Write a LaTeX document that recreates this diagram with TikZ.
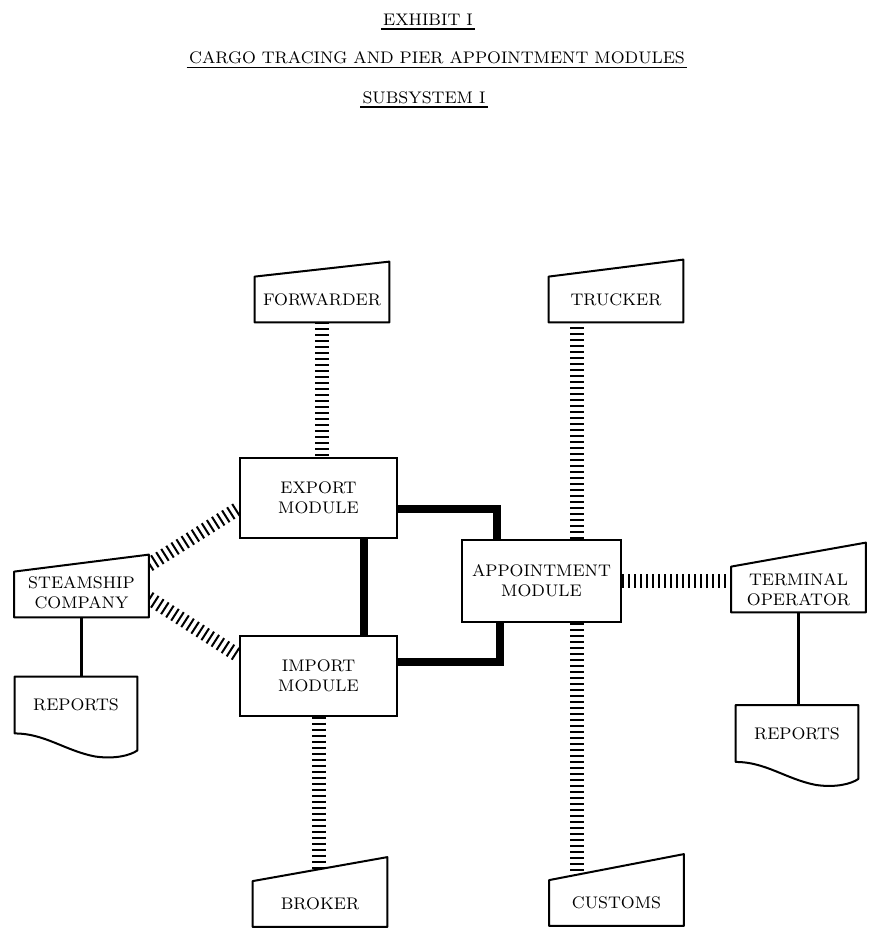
\documentclass[tikz,border=0pt]{standalone}
\usetikzlibrary{calc,backgrounds}
\tikzset{
  box/.style={draw, line width=1pt, minimum width=78.5pt, minimum height=40pt, align=center, inner sep=0pt},
  input/.style={minimum width=67pt, minimum height=22.5pt, align=center, inner sep=0pt},
  report/.style={minimum width=61pt, minimum height=28pt, inner sep=0pt},
  heading/.style={anchor=base, inner ysep=0pt, inner xsep=1pt},
  rail/.style={line width=7pt, dash pattern=on 1pt off 2pt},
  bus/.style={line width=4pt, line join=miter},
  lead/.style={line width=1.4pt},
  outline/.style={line width=1pt, fill=white, line join=round},
}
\begin{document}
\begin{tikzpicture}[x=0.5pt, y=-0.5pt, font=\fontsize{8.4}{10}\selectfont]
    \useasboundingbox (0,0) rectangle (873,928);
    % headings
    \node[heading] (ttl1) at (428,25) {EXHIBIT I};
    \node[heading] (ttl2) at (437,63.5) {CARGO TRACING AND PIER APPOINTMENT MODULES};
    \node[heading] (ttl3) at (424,103) {SUBSYSTEM I};
    \foreach \t in {ttl1,ttl2,ttl3}
        \draw[line width=0.9pt] ([yshift=-2pt]\t.base west) -- ([yshift=-2pt]\t.base east);
    % modules
    \node[box] (exp) at (318.5,498) {EXPORT\\MODULE};
    \node[box] (imp) at (318.5,675.5) {IMPORT\\MODULE};
    \node[box, minimum width=79.5pt, minimum height=41pt] (apt) at (541.5,581) {APPOINTMENT\\MODULE};
    % outside parties
    \node[input] (fwd) at (322,299.5) {FORWARDER};
    \node[input] (trk) at (616,299.5) {TRUCKER};
    \node[input] (stm) at (81.5,594.5) {STEAMSHIP\\COMPANY\rule[-2pt]{0pt}{0pt}};
    \node[input] (trm) at (798.5,589.5) {TERMINAL\\OPERATOR};
    \node[input] (brk) at (320,904) {BROKER};
    \node[input] (cus) at (616.5,903) {CUSTOMS};
    \node[report] (rep1) at (76,705) {REPORTS};
    \node[report] (rep2) at (797,733.5) {REPORTS};
    \begin{pgfonlayer}{background}
        \draw[rail] (fwd.south) -- (fwd.south |- exp.north);
        \draw[rail] ([xshift=17.5pt]apt.north) -- ([xshift=17.5pt]apt.north |- trk.south);
        \draw[rail] ([xshift=17.5pt]apt.south) -- ([xshift=17.5pt]apt.south |- cus.north);
        \draw[rail] (imp.south) -- (imp.south |- brk.north);
        \draw[rail] (apt.east) -- (apt.east -| trm.west);
        \draw[rail] ([yshift=14.75pt]stm.east) -- ([yshift=-5pt]exp.west);
        \draw[rail] ([yshift=-1.75pt]stm.east) -- ([yshift=9.75pt]imp.west);
        \draw[bus] ([xshift=22.75pt]exp.south) -- ([xshift=22.75pt]imp.north);
        \draw[bus] ([yshift=-5.5pt]exp.east) -| ([xshift=-22.25pt]apt.north);
        \draw[bus] ([yshift=6.75pt]imp.east) -| ([xshift=-20.75pt]apt.south);
        \draw[lead] (stm.south) -- (stm.south |- rep1.north);
        \draw[lead] (trm.south) -- (trm.south |- rep2.north);
        % slanted input shapes
        \foreach \n/\r in {fwd/15,trk/17,stm/17,trm/24,brk/24,cus/26}
            \draw[outline] (\n.south west) -- (\n.north west) -- ([shift={(0,-\r)}]\n.north east) -- (\n.south east) -- cycle;
        % document shapes
        \foreach \n in {rep1,rep2}
            \draw[outline] (\n.south west) -- (\n.north west) -- (\n.north east) -- ([shift={(0,17)}]\n.south east)
                .. controls ([shift={(-7,22)}]\n.south east) and ([shift={(100,26)}]\n.south west) .. ([shift={(80,23)}]\n.south west)
                .. controls ([shift={(50,17)}]\n.south west) and ([shift={(30,0)}]\n.south west) .. (\n.south west) -- cycle;
    \end{pgfonlayer}
\end{tikzpicture}
\end{document}
